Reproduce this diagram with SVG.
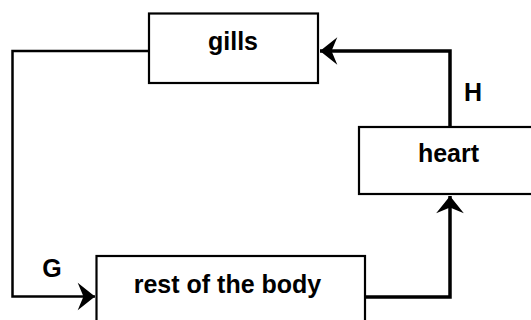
<svg xmlns="http://www.w3.org/2000/svg" width="531" height="320" viewBox="0 0 531 320">
<style>
.box{fill:#fff;stroke:#000;stroke-width:2.2}
.lbl{font-family:"Liberation Sans",Arial,sans-serif;font-weight:bold;font-size:25px;fill:#000;text-anchor:middle}
.con{fill:none;stroke:#000;stroke-linejoin:miter}
</style>
<defs>
<marker id="ah" markerUnits="userSpaceOnUse" markerWidth="20" markerHeight="30" viewBox="-16 -13 17 26" refX="0" refY="0" orient="auto">
<path d="M0,0 L-15,-12 L-10,0 L-15,12 Z" fill="#000"/>
</marker>
</defs>
<rect width="531" height="320" fill="#fff"/>
<g id="connectors">
<path class="con" stroke-width="2.5" d="M149,51 H12.5 V296.5 H95" marker-end="url(#ah)"/>
<path class="con" stroke-width="3.5" d="M365,297 H450 V196" marker-end="url(#ah)"/>
<path class="con" stroke-width="3.5" d="M450,127 V51 H320" marker-end="url(#ah)"/>
</g>
<g id="gills">
<rect class="box" x="149" y="13.5" width="169" height="69.5"/>
<text class="lbl" x="233" y="50">gills</text>
</g>
<g id="heart">
<rect class="box" x="359" y="127" width="200" height="67"/>
<text class="lbl" x="448.5" y="162">heart</text>
</g>
<g id="body">
<rect class="box" x="96.5" y="256" width="268.5" height="90"/>
<text class="lbl" x="227.5" y="293">rest of the body</text>
</g>
<g id="labels">
<text class="lbl" x="52" y="277">G</text>
<text class="lbl" x="473" y="101">H</text>
</g>
</svg>
